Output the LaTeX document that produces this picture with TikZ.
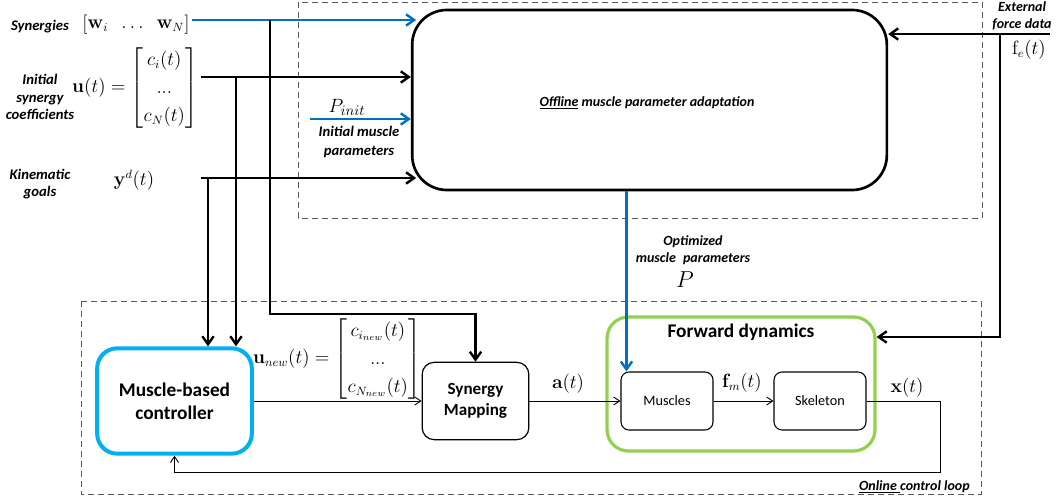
\documentclass[tikz,border=0pt]{standalone}
\usepackage{amsmath}
\usepackage[no-math]{fontspec}
\setmainfont{Carlito}
\usetikzlibrary{arrows.meta,positioning}
\usepackage{xcolor}
\definecolor{offblue}{RGB}{0,112,192}
\definecolor{ctrlblue}{RGB}{0,176,240}
\definecolor{fdgreen}{RGB}{146,208,80}

\begin{document}
\begin{tikzpicture}[
            x=0.75pt, y=-0.75pt,
            bigbox/.style={rectangle, draw, line width=2pt, rounded corners=26pt, minimum width=356pt, minimum height=135pt, align=center},
            ctrlbox/.style={rectangle, draw=ctrlblue, line width=3pt, rounded corners=15pt, minimum width=116pt, minimum height=79pt, align=center, font=\fontsize{14.5}{17}\selectfont\bfseries},
            blockbox/.style={rectangle, draw, line width=0.9pt, rounded corners=9pt, minimum width=80pt, minimum height=58pt, align=center, font=\fontsize{12.8}{15.5}\selectfont\bfseries},
            fdbox/.style={rectangle, draw=fdgreen, line width=2.4pt, rounded corners=16pt, minimum width=201pt, minimum height=100.5pt},
            smallbox/.style={rectangle, draw, line width=0.8pt, rounded corners=6pt, minimum width=69pt, minimum height=43.5pt, font=\fontsize{10.7}{12}\selectfont},
            lbl/.style={align=center, inner sep=0pt, font=\fontsize{10.5}{13}\selectfont\bfseries\itshape},
            sidelbl/.style={lbl, font=\fontsize{11}{13.3}\selectfont\bfseries\itshape},
            mathlbl/.style={inner sep=1pt, font=\fontsize{13.5}{21}\selectfont},
            biglbl/.style={inner sep=0pt, font=\fontsize{15}{16}\selectfont},
            region/.style={draw=black!65, dash pattern=on 4.5pt off 3pt, line width=0.6pt},
            arrow/.style={-{Straight Barb[length=6pt,width=8.5pt]}, line width=1.8pt},
            bluearrow/.style={arrow, draw=offblue},
            thinarrow/.style={-{Straight Barb[length=4.5pt,width=6pt]}, line width=0.7pt}
        ]
            \useasboundingbox (0,0) rectangle (1063,502);

            % --- REGIONS ---
            \draw[region] (298,2) rectangle (982,218);
            \draw[region] (81,301) rectangle (981,494);

            % --- INPUTS (left) ---
            \node[lbl, font=\fontsize{11}{13}\selectfont\bfseries\itshape] (synLbl) at (40,27) {Synergies};
            \node[mathlbl, inner sep=0pt, font=\fontsize{13.5}{13}\selectfont] (synMat) at (136,25) {$\begin{bmatrix}\mathbf{w}_i & \ldots & \mathbf{w}_N\end{bmatrix}$};

            \node[sidelbl] (coefLbl) at (40,97) {Initial\\synergy\\coefficients};
            \node[mathlbl] (uMat) at (135,88) {$\mathbf{u}(t) = \begin{bmatrix} c_i(t)\\ \mathrm{...}\\ c_N(t)\end{bmatrix}$};

            \node[sidelbl] (kinLbl) at (40,184) {Kinematic\\goals};
            \node[mathlbl] (ydLbl) at (134,180) {$\mathbf{y}^d(t)$};

            % --- OFFLINE ADAPTATION ---
            \node[bigbox] (offline) at (649.5,100) {};
            \node[lbl] (offLbl) at (647,103) {\underline{Offline} muscle parameter adaptation};

            \node[biglbl] (pInit) at (347,107) {$P_{init}$};
            \node[sidelbl, font=\fontsize{11}{14}\selectfont\bfseries\itshape] (imLbl) at (359,142) {Initial muscle\\parameters};

            \node[lbl] (extLbl) at (1022,16) {External\\force data};
            \node[mathlbl] (feLbl) at (1029,50) {$\mathrm{f}_e(t)$};

            \node[lbl] (optLbl) at (693,250) {Optimized\\muscle\enspace parameters};
            \node[biglbl, font=\fontsize{17}{18}\selectfont, below=5pt of optLbl, xshift=-6pt] (pOpt) {$P$};

            % --- ONLINE LOOP ---
            \node[ctrlbox] (controller) at (174.5,401) {Muscle-based\\controller};
            \node[blockbox] (synergy) at (475.5,401) {Synergy\\Mapping};
            \node[fdbox] (forward) at (741,384) {};
            \node[font=\fontsize{14.5}{17}\selectfont\bfseries, anchor=north] (fdTitle) at ([yshift=-3pt]forward.north) {Forward dynamics};
            \node[smallbox] (muscles) at (667,401) {Muscles};
            \node[smallbox] (skeleton) at (820,401) {Skeleton};

            \node[mathlbl] (unewLbl) at (337,359) {$\mathbf{u}_{new}(t) = \begin{bmatrix} c_{i_{new}}(t)\\ \mathrm{...}\\ c_{N_{new}}(t)\end{bmatrix}$};
            \node[mathlbl] (aLbl) at (568,384) {$\mathbf{a}(t)$};
            \node[mathlbl] (fmLbl) at (742,383) {$\mathbf{f}_m(t)$};
            \node[mathlbl] (xLbl) at (907,388) {$\mathbf{x}(t)$};
            \node[lbl, anchor=east] (onLbl) at (970,487) {\underline{Online\ }control loop};

            % --- CONNECTORS ---
            \coordinate (synJoin) at (270,20);
            \coordinate (synTurn) at (270,314);
            \coordinate (uJoin) at (236,77);
            \coordinate (ydJoin) at (208,178);
            \coordinate (pInitStart) at (310,119);
            \coordinate (feStart) at (1050,34);
            \coordinate (feJoin) at (1000,34);
            \coordinate (feTurn) at (1000,337);
            \coordinate (loopCorner) at (940,472);

            \draw[bluearrow, shorten >=-4pt] ([xshift=2pt]synMat.east |- synJoin) -- (offline.west |- synJoin);
            \draw[arrow] ([xshift=1pt]uMat.east |- uJoin) -- (offline.west |- uJoin);
            \draw[arrow, shorten >=-4pt] ([xshift=1pt]uMat.east |- ydJoin) -- (offline.west |- ydJoin);
            \draw[bluearrow] (pInitStart) -- (offline.west |- pInitStart);

            \draw[arrow] (synJoin) -- (synTurn) -| (synergy.north);
            \draw[arrow] (uJoin) -- (uJoin |- controller.north);
            \draw[arrow] (ydJoin) -- (ydJoin |- controller.north);

            \draw[arrow] (feStart) -- (offline.east |- feStart);
            \draw[arrow] (feJoin) -- (feTurn) -- (forward.east |- feTurn);

            \draw[bluearrow] ([xshift=4.5pt]muscles.north west |- offline.south) -- ([xshift=4.5pt]muscles.north west);

            \draw[thinarrow] (controller.east) -- (synergy.west);
            \draw[thinarrow] (synergy.east) -- (muscles.west);
            \draw[thinarrow] (muscles.east) -- (skeleton.west);
            \draw[thinarrow] (skeleton.east) -| (loopCorner) -| (controller.south);

        \end{tikzpicture}
\end{document}
